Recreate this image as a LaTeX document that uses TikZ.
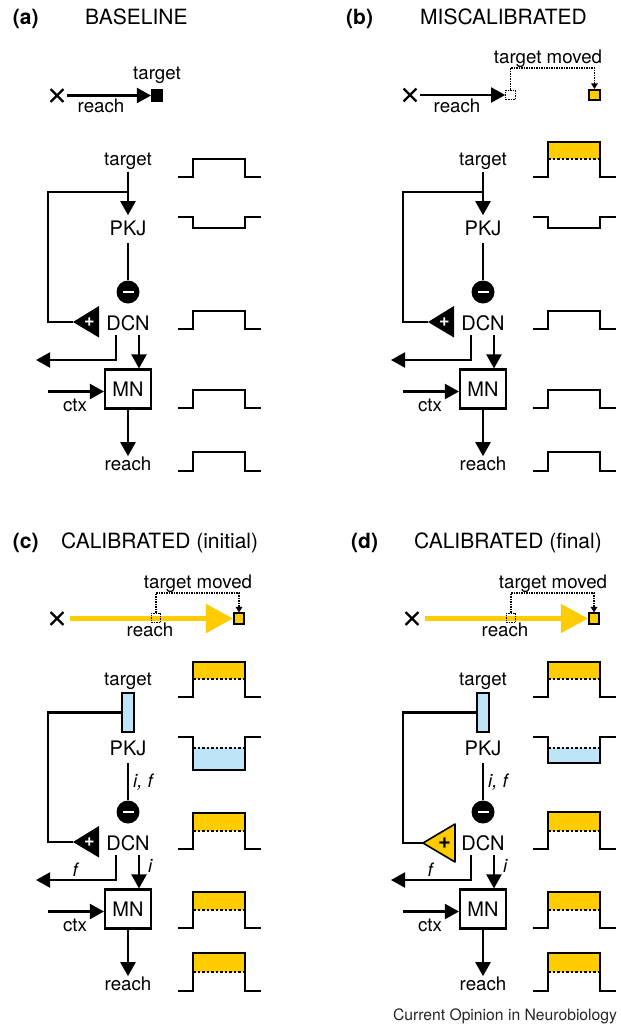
\documentclass[tikz,border=0pt]{standalone}
\usepackage{fontspec}
\setmainfont{TeX Gyre Heros}
\usetikzlibrary{arrows.meta,shapes.misc}
\definecolor{gold}{RGB}{255,204,0}
\definecolor{lblue}{RGB}{189,228,247}
\tikzset{
  lbl/.style={inner sep=0pt, anchor=base, font=\fontsize{18.7}{22}\selectfont},
  capl/.style={inner sep=0pt, anchor=base, font=\fontsize{20}{22}\selectfont},
  ital/.style={inner sep=0pt, anchor=base west, font=\fontsize{18.5}{22}\selectfont\itshape},
  ttl/.style={inner sep=0pt, anchor=base west, font=\fontsize{21}{24}\selectfont},
  ttlb/.style={inner sep=0pt, anchor=base west, font=\fontsize{21}{24}\selectfont\bfseries},
  conn/.style={line width=2.1pt},
  arr/.style={conn, -{Triangle[length=14pt,width=15pt]}},
  goldarr/.style={line width=5pt, draw=gold, -{Triangle[length=27pt,width=28pt]}},
  dotline/.style={line width=1.3pt, dash pattern=on 1.3pt off 1.2pt},
  dotarr/.style={dotline, -{Triangle[length=5.5pt,width=6.5pt]}},
  xmark/.style={cross out, draw, line width=2.3pt, minimum size=10.5pt, inner sep=0pt},
  tsq/.style={draw=black, line width=1.6pt, minimum size=10.5pt, inner sep=0pt},
  oldsq/.style={draw=black, dotline, minimum size=9.5pt, inner sep=0pt},
  inh/.style={circle, fill=black, minimum size=23pt, inner sep=0pt},
  minusbar/.style={draw=white, line width=1.4pt},
  mnbox/.style={draw, line width=2.1pt, minimum width=46pt, minimum height=39pt, inner sep=0pt, font=\fontsize{20}{22}\selectfont},
  pkjbar/.style={draw, fill=lblue, line width=1.6pt, minimum width=12pt, minimum height=39pt, inner sep=0pt},
  plusw/.style={inner sep=0pt, text=white, font=\fontsize{18}{18}\selectfont\bfseries},
  plusb/.style={inner sep=0pt, text=black, font=\fontsize{22}{22}\selectfont\bfseries},
  wave/.style={line width=2.3pt},
  dsh/.style={line width=1.5pt, dash pattern=on 2.5pt off 2pt},
  cred/.style={inner sep=0pt, anchor=base, text=black!85, font=\fontsize{15.7}{18}\selectfont}
}
\newcommand{\wup}[2]{\draw[wave] (178,#1) -- (193,#1) -- (193,#2) -- (245,#2) -- (245,#1) -- (261,#1);}
\newcommand{\wgold}[3]{\fill[gold] (193,#2) rectangle (245,#3); \draw[dsh] (193,#3) -- (245,#3); \wup{#1}{#2}}
\newcommand{\wblue}[3]{\fill[lblue] (193,#3) rectangle (245,#2); \draw[dsh] (193,#3) -- (245,#3); \wup{#1}{#2}}
\newcommand{\core}[1]{%
  \node[lbl] (#1T) at (128,165) {target};
  \node[capl] (#1P) at (128,235) {PKJ};
  \node[inh] (#1I) at (128,292) {};
  \draw[minusbar] ([xshift=-5.5pt]#1I.center) -- ([xshift=5.5pt]#1I.center);
  \node[capl] (#1D) at (128,330) {DCN};
  \node[mnbox] (#1M) at (128,389) {MN};
  \node[lbl] (#1R) at (128,470) {reach};
  \node[lbl] (#1C) at (75,411) {ctx};
  \coordinate (#1Cs) at (48,391.5);
  \coordinate (#1O) at (36,360);
  \draw[conn] ([yshift=-8pt]#1P.base) -- (#1I.north);
  \draw[arr] ([xshift=-12pt,yshift=-5pt]#1D.base) |- (#1O);
  \draw[arr] ([xshift=11pt,yshift=-5pt]#1D.base) -- ([xshift=11pt]#1M.north);
  \draw[arr] (#1Cs) -- (#1Cs -| #1M.west);
  \draw[arr] (#1M.south) -- (#1R.north);
}
\newcommand{\blacktri}[1]{%
  \fill (73,322) -- (99,306) -- (99,337.5) -- cycle;
  \node[plusw] (#1G) at (89.5,322) {+};
  \coordinate (#1F) at (48,322);
}
\newcommand{\goldtop}[1]{%
  \node[xmark] (#1X) at (57,98.5) {};
  \node[tsq, fill=gold] (#1New) at (239,98.5) {};
  \draw[goldarr, shorten <=7pt] (#1X) -- (#1New);
  \node[oldsq] (#1Old) at (156,98) {};
  \coordinate (#1Top) at (0,73);
  \draw[dotarr] (#1Old.north) |- (#1Top -| #1New.north) -- (#1New.north);
  \node[lbl] (#1TM) at (198,68) {target moved};
  \node[lbl] (#1RL) at (150,116) {reach};
}
\begin{document}
\begin{tikzpicture}[x=1pt,y=-1pt]
\path[use as bounding box, fill=white] (0,0) rectangle (621,1026);

% titles
\node[ttlb] (ta) at (12.7,24) {(a)};
\node[ttl] (tna) at (85,24) {BASELINE};
\node[ttlb] (tb) at (346,24) {(b)};
\node[ttl] (tnb) at (420,24) {MISCALIBRATED};
\node[ttlb] (tc) at (12.7,548) {(c)};
\node[ttl] (tnc) at (61,548) {CALIBRATED (initial)};
\node[ttlb] (td) at (351,548) {(d)};
\node[ttl] (tnd) at (414,548) {CALIBRATED (final)};

% ---------- panel a ----------
\begin{scope}
  \node[xmark] (aX) at (57,95.5) {};
  \node[tsq, fill=black] (aSq) at (157,95.5) {};
  \draw[arr, shorten <=4pt] (aX) -- (aSq);
  \node[lbl] (aTL) at (157,79) {target};
  \node[lbl] (aRL) at (101,112.5) {reach};
  \core{a}
  \draw[arr] ([yshift=-7pt]aT.base) -- ([yshift=5pt]aP.north);
  \coordinate (aJ) at (128,192);
  \blacktri{a}
  \draw[conn] (aJ) -| (aF) -- ([xshift=-16.5pt]aG.center);
  \wup{177}{159}
  \wup{217}{228}
  \wup{329}{311}
  \wup{408}{390}
  \wup{471}{452}
\end{scope}

% ---------- panel b ----------
\begin{scope}[shift={(355,0)}]
  \node[xmark] (bX) at (55,95) {};
  \node[oldsq] (bOld) at (155.5,95) {};
  \node[tsq, fill=gold] (bNew) at (239.5,95) {};
  \draw[arr, shorten <=4pt] (bX) -- (bOld);
  \coordinate (bTop) at (0,68);
  \draw[dotarr] (bOld.north) |- (bTop -| bNew.north) -- (bNew.north);
  \node[lbl] (bTM) at (193,63) {target moved};
  \node[lbl] (bRL) at (102,112.5) {reach};
  \core{b}
  \draw[arr] ([yshift=-7pt]bT.base) -- ([yshift=5pt]bP.north);
  \coordinate (bJ) at (128,192);
  \blacktri{b}
  \draw[conn] (bJ) -| (bF) -- ([xshift=-16.5pt]bG.center);
  \wgold{177}{142}{159}
  \wup{217}{228}
  \wup{329}{311}
  \wup{408}{390}
  \wup{471}{452}
\end{scope}

% ---------- panel c ----------
\begin{scope}[shift={(0,520)}]
  \goldtop{c}
  \core{c}
  \node[pkjbar] (cB) at (128,192.5) {};
  \blacktri{c}
  \draw[conn] (cB.west) -| (cF) -- ([xshift=-16.5pt]cG.center);
  \node[ital] (cIF) at (133,267) {i, f};
  \node[ital] (cFl) at (72.5,356.5) {f};
  \node[ital] (cIl) at (148,352) {i};
  \wgold{177}{142}{159}
  \wblue{217}{250}{228}
  \wgold{329}{293}{311}
  \wgold{408}{372}{390}
  \wgold{471}{433}{452}
\end{scope}

% ---------- panel d ----------
\begin{scope}[shift={(355,520)}]
  \goldtop{d}
  \core{d}
  \node[pkjbar] (dB) at (128,192.5) {};
  \filldraw[fill=gold, draw=black, line width=1.6pt, line join=round] (68,323) -- (100,304) -- (100,342) -- cycle;
  \node[plusb] (dG) at (89.5,323) {+};
  \coordinate (dF) at (48,323);
  \draw[conn] (dB.west) -| (dF) -- ([xshift=-21.5pt]dG.center);
  \node[ital] (dIF) at (133,267) {i, f};
  \node[ital] (dFl) at (72.5,356.5) {f};
  \node[ital] (dIl) at (148,352) {i};
  \wgold{177}{142}{159}
  \wblue{217}{243}{228}
  \wgold{329}{292}{311}
  \wgold{408}{372}{390}
  \wgold{471}{433}{452}
\end{scope}

\node[cred] (credit) at (505,1020) {Current Opinion in Neurobiology};
\end{tikzpicture}
\end{document}
